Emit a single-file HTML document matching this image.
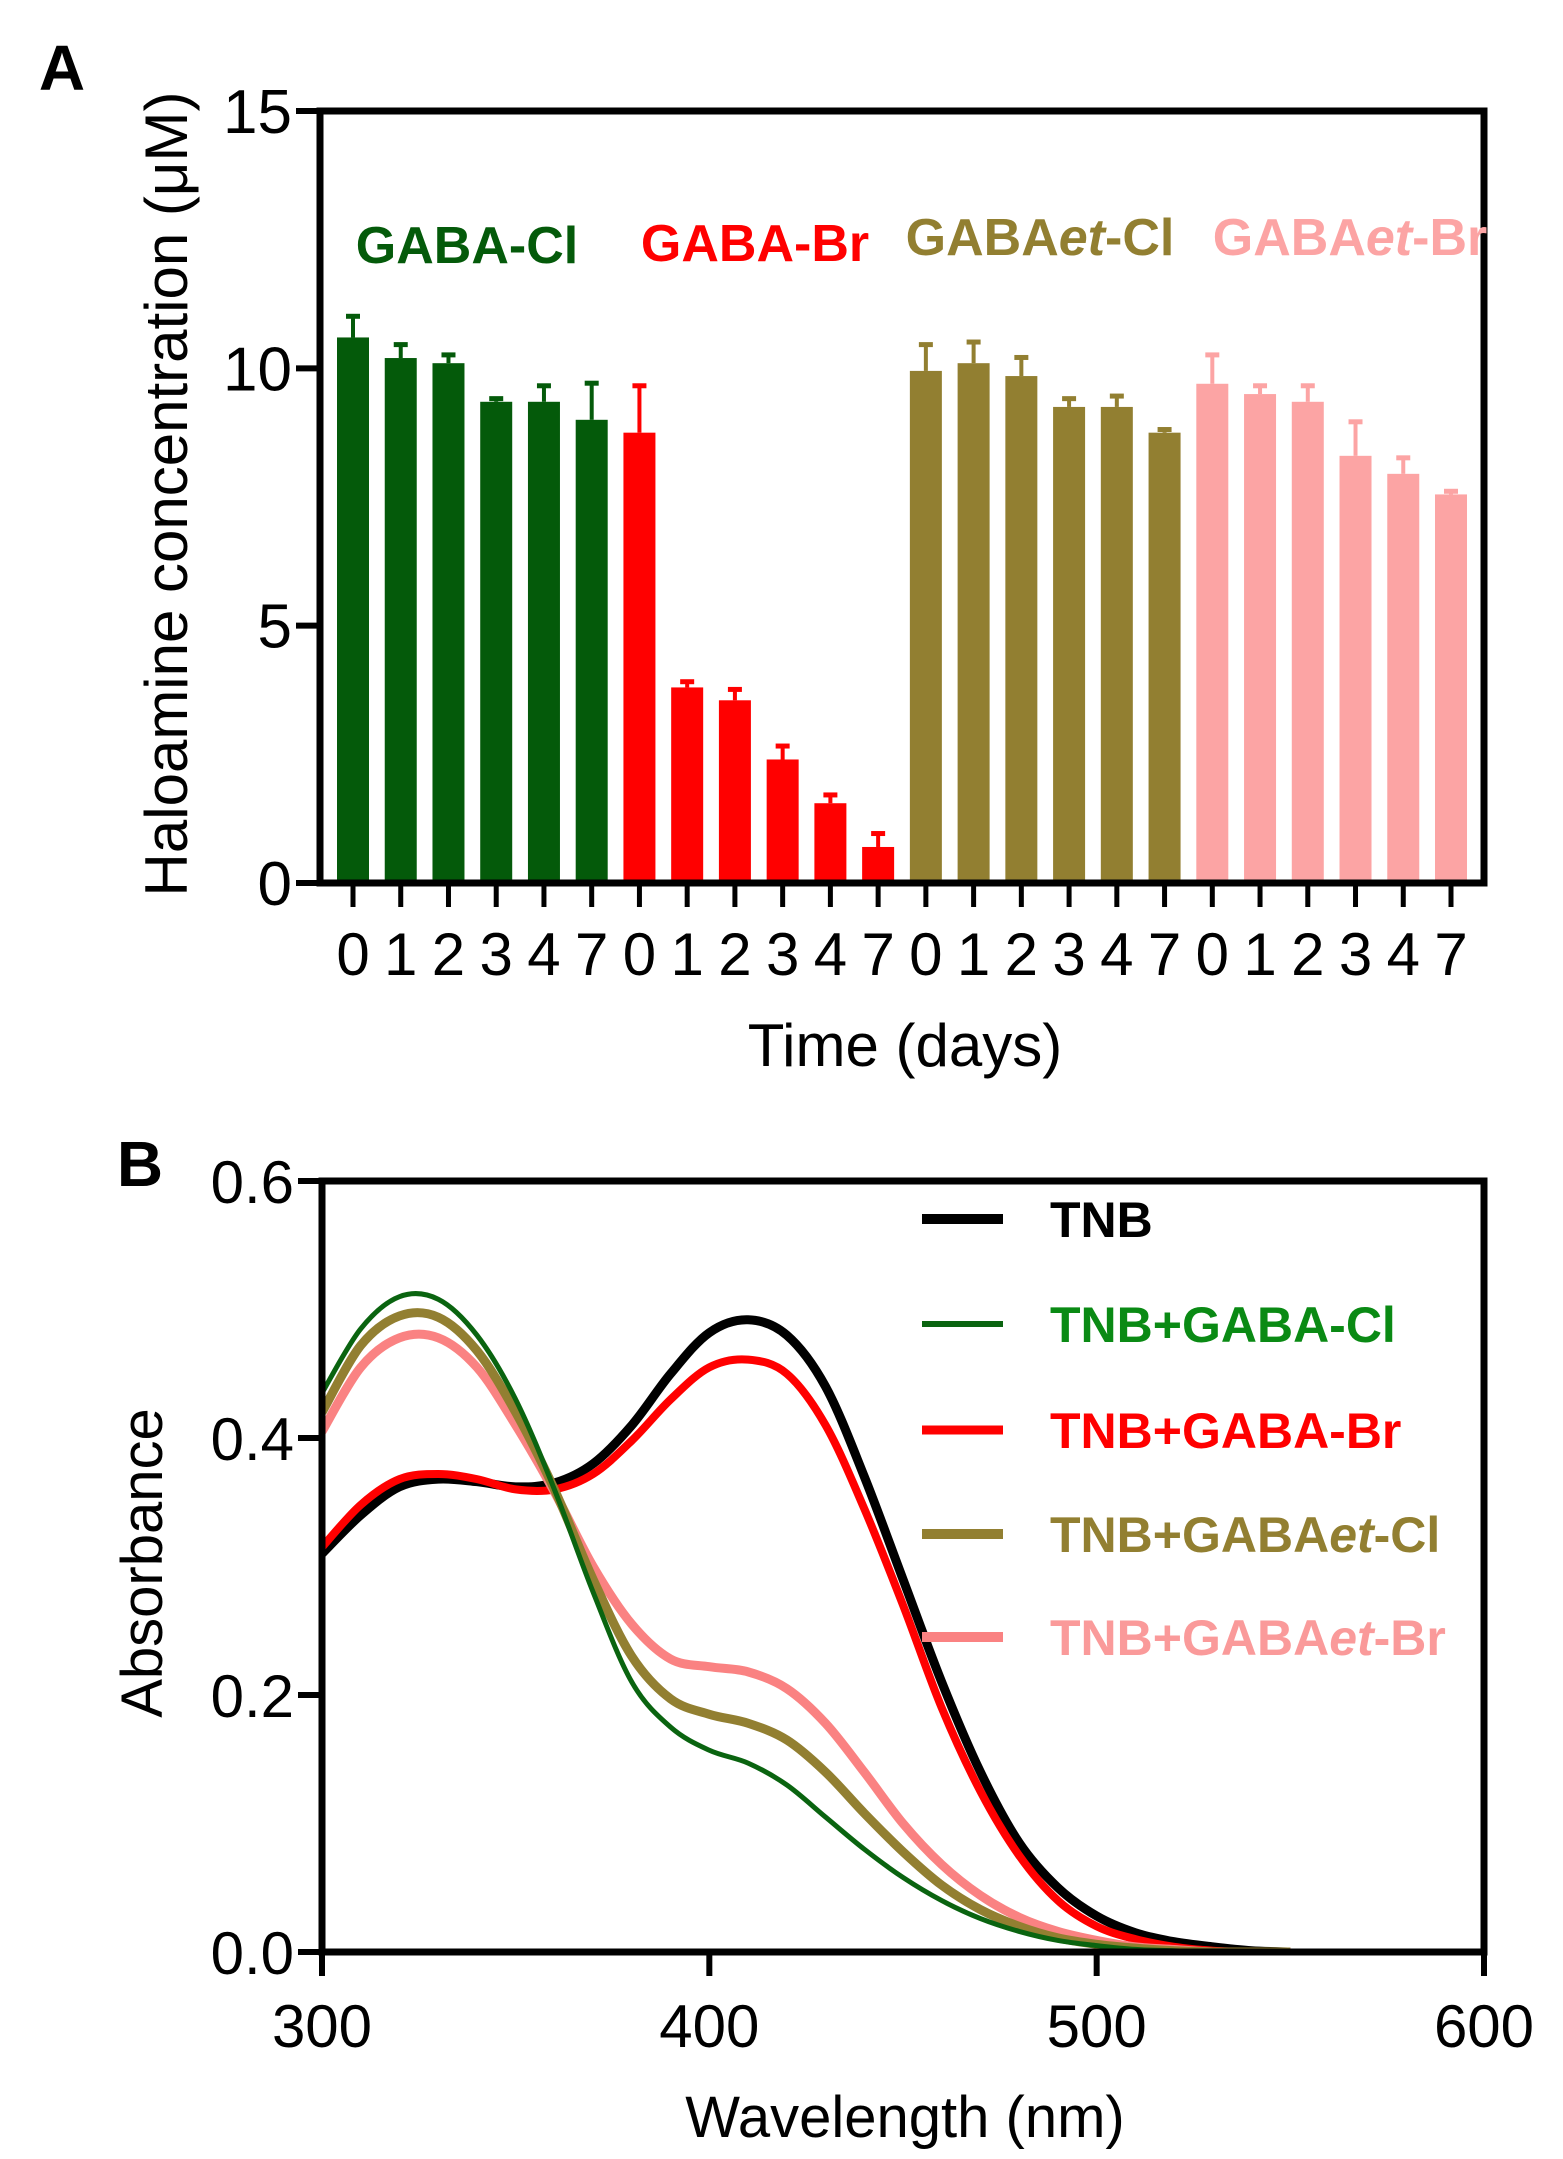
<!DOCTYPE html>
<html><head><meta charset="utf-8"><style>
html,body{margin:0;padding:0;background:#fff}
svg{display:block;font-family:"Liberation Sans",Arial,sans-serif}
</style></head><body>
<svg id="fig" width="1563" height="2159" viewBox="0 0 1563 2159" xmlns="http://www.w3.org/2000/svg">
<g id="pa"></g>
<g id="pb"></g>
</svg>
<script>
// ---- Panel A data ----
const groups = ["GABA-Cl","GABA-Br","GABAet-Cl","GABAet-Br"];
const days = ["0","1","2","3","4","7"];
const clMean = [10.6,10.2,10.1,9.35,9.35,9.0];
const clErr  = [0.45,0.3,0.2,0.1,0.35,0.75];
const brMean = [8.75,3.8,3.55,2.4,1.55,0.7];
const brErr  = [0.95,0.15,0.25,0.3,0.2,0.3];
const etClMean = [9.95,10.1,9.85,9.25,9.25,8.75];
const etClErr  = [0.55,0.45,0.4,0.2,0.25,0.1];
const etBrMean = [9.7,9.5,9.35,8.3,7.95,7.55];
const etBrErr  = [0.6,0.2,0.35,0.7,0.35,0.1];
const yTicksA = [0,5,10,15];
// ---- Panel B data ----
const wl = [300,310,320,330,340,350,360,370,380,390,400,410,420,430,440,450,460,470,480,490,500,510,520,530,540,550];
const tnb   = [0.31,0.34,0.362,0.368,0.366,0.362,0.365,0.38,0.41,0.45,0.482,0.492,0.48,0.44,0.37,0.29,0.21,0.14,0.085,0.05,0.028,0.015,0.008,0.004,0.001,0];
const tnbBr = [0.315,0.348,0.368,0.372,0.368,0.36,0.36,0.372,0.398,0.43,0.455,0.461,0.45,0.41,0.345,0.27,0.19,0.125,0.075,0.04,0.02,0.01,0.004,0.001,0,0];
const tnbCl = [0.435,0.485,0.51,0.508,0.48,0.43,0.36,0.28,0.21,0.175,0.157,0.147,0.13,0.105,0.08,0.058,0.04,0.026,0.016,0.009,0.005,0.002,0.001,0,0,0];
const tnbEtCl = [0.42,0.472,0.495,0.494,0.468,0.42,0.36,0.29,0.23,0.197,0.185,0.178,0.165,0.14,0.108,0.078,0.052,0.033,0.02,0.011,0.006,0.003,0.001,0,0,0];
const tnbEtBr = [0.405,0.455,0.478,0.478,0.455,0.41,0.358,0.3,0.255,0.228,0.222,0.218,0.205,0.178,0.14,0.1,0.068,0.044,0.027,0.016,0.009,0.004,0.002,0,0,0];
const xTicksB = [300,400,500,600];
const yTicksB = [0,0.2,0.4,0.6];

const NS="http://www.w3.org/2000/svg";
function mk(parent,tag,attrs,text){const e=document.createElementNS(NS,tag);for(const k in attrs)e.setAttribute(k,attrs[k]);if(text!==undefined)e.textContent=text;parent.appendChild(e);return e;}

// ===== Panel A =====
const pa=document.getElementById('pa');
const AL=320,AR=1484,AT=111,AB=883;
const yA=v=>AB-(v/15)*(AB-AT);
const step=(AR-AL-66)/23;
const xA=i=>AL+33+i*step;
const colors=["#045a0a","#ff0000","#927f31","#fca4a4"];
const means=[clMean,brMean,etClMean,etBrMean];
const errs=[clErr,brErr,etClErr,etBrErr];
for(let g=0;g<4;g++){
  for(let d=0;d<days.length;d++){
    const i=g*6+d,cx=xA(i),m=means[g][d],e=errs[g][d];
    const eb=mk(pa,'g',{});
    
    
    mk(eb,'line',{x1:cx,x2:cx,y1:yA(m),y2:yA(m+e),stroke:colors[g],'stroke-width':4});
    mk(eb,'line',{x1:cx-7,x2:cx+7,y1:yA(m+e)+2,y2:yA(m+e)+2,stroke:colors[g],'stroke-width':5});
    const b=mk(pa,'rect',{x:cx-16,y:yA(m),width:32,height:AB-yA(m),fill:colors[g]});
    
    
    const t=mk(pa,'line',{x1:cx,x2:cx,y1:AB,y2:AB+24,stroke:'#000','stroke-width':5});
    
    
    const tl=mk(pa,'text',{x:cx,y:975,'font-size':60,'text-anchor':'middle'},days[d]);
    
    
  }
}
mk(pa,'path',{d:`M${AL} ${AT} H${AR} V${AB} H${AL} Z`,fill:'none',stroke:'#000','stroke-width':7,});
for(const v of yTicksA){
  const t=mk(pa,'line',{x1:AL-24,x2:AL,y1:yA(v),y2:yA(v),stroke:'#000','stroke-width':6});
  
  
  const l=mk(pa,'text',{x:AL-28,y:yA(v)+22,'font-size':62,'text-anchor':'end'},String(v));
  
  
}
mk(pa,'text',{x:62,y:90,'font-size':64,'font-weight':'bold','text-anchor':'middle',},'A');
mk(pa,'text',{transform:'translate(187,494) rotate(-90)','font-size':60,'text-anchor':'middle',},'Haloamine concentration (\u03bcM)');
mk(pa,'text',{x:905,y:1066,'font-size':60,'text-anchor':'middle',},'Time (days)');
</script>
<script>
// group labels
(function(){
const pa=document.getElementById('pa');
const labs=[["GABA-Cl",null,467,263,"#045a0a"],["GABA-Br",null,755,261,"#ff0000"],["GABA","et","-Cl",1040,255,"#927f31"],["GABA","et","-Br",1350,255,"#fca4a4"]];
labs.forEach((l,k)=>{
  let t;
  if(l[1]===null){
    t=document.createElementNS("http://www.w3.org/2000/svg",'text');
    t.setAttribute('x',l[2]);t.setAttribute('y',l[3]);t.setAttribute('fill',l[4]);
    t.textContent=l[0];
  } else {
    t=document.createElementNS("http://www.w3.org/2000/svg",'text');
    t.setAttribute('x',l[3]);t.setAttribute('y',l[4]);t.setAttribute('fill',l[5]);
    t.innerHTML=l[0]+'<tspan font-style="italic">'+l[1]+'</tspan>'+l[2];
  }
  t.setAttribute('font-size',52);t.setAttribute('font-weight','bold');t.setAttribute('text-anchor','middle');
  
  
  pa.appendChild(t);
});
})();

// ===== Panel B =====
(function(){
const pb=document.getElementById('pb');
const NS="http://www.w3.org/2000/svg";
function mk(parent,tag,attrs,text){const e=document.createElementNS(NS,tag);for(const k in attrs)e.setAttribute(k,attrs[k]);if(text!==undefined)e.textContent=text;parent.appendChild(e);return e;}
const BL=322,BR=1484,BT=1181,BB=1952;
const xB=v=>BL+(v-300)/300*(BR-BL);
const yB=v=>BB-(v/0.6)*(BB-BT);
function smooth(xs,ys){
  const p=xs.map((x,i)=>[xB(x),yB(ys[i])]);
  let d=`M${p[0][0]} ${p[0][1]}`;
  for(let i=0;i<p.length-1;i++){
    const p0=p[Math.max(0,i-1)],p1=p[i],p2=p[i+1],p3=p[Math.min(p.length-1,i+2)];
    const c1=[p1[0]+(p2[0]-p0[0])/6,p1[1]+(p2[1]-p0[1])/6];
    const c2=[p2[0]-(p3[0]-p1[0])/6,p2[1]-(p3[1]-p1[1])/6];
    d+=` C${c1[0]} ${c1[1]} ${c2[0]} ${c2[1]} ${p2[0]} ${p2[1]}`;
  }
  return d;
}
const series=[
 ["TNB",tnb,"#000000",9,"line-tnb"],
 ["TNB+GABA-Br",tnbBr,"#ff0000",8,"line-tnb-gaba-br"],
 ["TNB+GABAet-Br",tnbEtBr,"#fa8282",9,"line-tnb-gabaet-br"],
 ["TNB+GABAet-Cl",tnbEtCl,"#927f31",9,"line-tnb-gabaet-cl"],
 ["TNB+GABA-Cl",tnbCl,"#0a6410",5,"line-tnb-gaba-cl"]
];
const clip=mk(pb,'clipPath',{id:'cb'});mk(clip,'rect',{x:BL,y:BT-20,width:BR-BL,height:BB-BT+20});
series.forEach(s=>{
  const p=mk(pb,'path',{d:smooth(wl,s[1]),fill:'none',stroke:s[2],'stroke-width':s[3],'clip-path':'url(#cb)','stroke-linejoin':'round'});
  
  
});
mk(pb,'path',{d:`M${BL} ${BT} H${BR} V${BB} H${BL} Z`,fill:'none',stroke:'#000','stroke-width':7,});
for(const v of xTicksB){
  const t=mk(pb,'line',{x1:xB(v),x2:xB(v),y1:BB,y2:BB+24,stroke:'#000','stroke-width':6});
  
  
  const l=mk(pb,'text',{x:xB(v),y:2047,'font-size':60,'text-anchor':'middle'},String(v));
  
  
}
for(const v of yTicksB){
  const t=mk(pb,'line',{x1:BL-24,x2:BL,y1:yB(v),y2:yB(v),stroke:'#000','stroke-width':6});
  
  
  const l=mk(pb,'text',{x:BL-28,y:yB(v)+22,'font-size':60,'text-anchor':'end'},v.toFixed(1));
  
  
}
mk(pb,'text',{x:140,y:1186,'font-size':64,'font-weight':'bold','text-anchor':'middle',},'B');
mk(pb,'text',{transform:'translate(162,1563) rotate(-90)','font-size':58,'text-anchor':'middle',},'Absorbance');
mk(pb,'text',{x:905,y:2137,'font-size':58,'text-anchor':'middle',},'Wavelength (nm)');
const leg=[["TNB","","","#000","#000",10,1219],["TNB+GABA-Cl","","","#0a6410","#0a8a14",6,1324],["TNB+GABA-Br","","","#ff0000","#ff0000",9,1430],["TNB+GABA","et","-Cl","#927f31","#927f31",10,1534],["TNB+GABA","et","-Br","#fa8282","#fa9a9a",10,1637]];
leg.forEach(l=>{
  const g=mk(pb,'g',{});
  
  
  mk(g,'line',{x1:922,x2:1003,y1:l[6],y2:l[6],stroke:l[3],'stroke-width':l[5]});
  const t=mk(g,'text',{x:1050,y:l[6]+18,'font-size':50,'font-weight':'bold',fill:l[4]});
  if(l[1]) t.innerHTML=l[0]+'<tspan font-style="italic">'+l[1]+'</tspan>'+l[2]; else t.textContent=l[0];
});
})();
</script>
</body></html>
